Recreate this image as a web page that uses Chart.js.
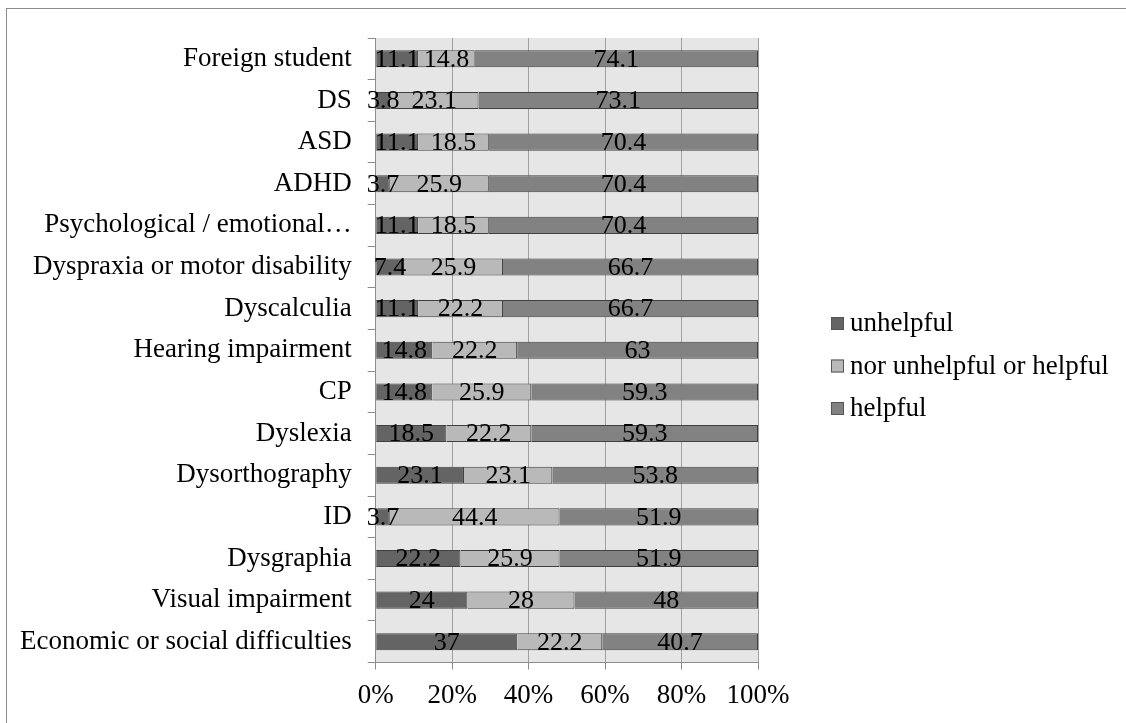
<!DOCTYPE html>
<html>
<head>
<meta charset="utf-8">
<script src="https://cdn.jsdelivr.net/npm/chart.js@4.4.0/dist/chart.umd.min.js"></script>
<style>
html, body { margin: 0; padding: 0; background: #fff; }
</style>
</head>
<body>
<canvas id="mycanvas" width="1126" height="723"></canvas>
<script>
var categories = [
	'Foreign student', 'DS', 'ASD', 'ADHD', 'Psychological / emotional\u2026',
	'Dyspraxia or motor disability', 'Dyscalculia', 'Hearing impairment', 'CP',
	'Dyslexia', 'Dysorthography', 'ID', 'Dysgraphia', 'Visual impairment',
	'Economic or social difficulties'
];
var unhelpful = [11.1, 3.8, 11.1, 3.7, 11.1, 7.4, 11.1, 14.8, 14.8, 18.5, 23.1, 3.7, 22.2, 24, 37];
var neutral   = [14.8, 23.1, 18.5, 25.9, 18.5, 25.9, 22.2, 22.2, 25.9, 22.2, 23.1, 44.4, 25.9, 28, 22.2];
var helpful   = [74.1, 73.1, 70.4, 70.4, 70.4, 66.7, 66.7, 63, 59.3, 59.3, 53.8, 51.9, 51.9, 48, 40.7];
var seriesNames = ['unhelpful', 'nor unhelpful or helpful', 'helpful'];
var xTickValues = [0, 20, 40, 60, 80, 100];

var serif = "'Liberation Serif', 'Times New Roman', serif";

// 100% stacking: scale each row to its own total
function share(arr, i) {
	var total = unhelpful[i] + neutral[i] + helpful[i];
	return arr[i] / total * 100;
}
function toShares(arr) {
	var out = [];
	for (var i in arr) out.push(share(arr, +i));
	return out;
}

var raw = [unhelpful, neutral, helpful];
var fills = ['#646464', '#b9b9b9', '#828282'];

var chartdata = {
	labels: categories,
	datasets: [
		{ label: seriesNames[0], data: toShares(unhelpful), backgroundColor: fills[0], borderColor: '#404040', borderWidth: 1 },
		{ label: seriesNames[1], data: toShares(neutral), backgroundColor: fills[1], borderColor: '#404040', borderWidth: 1 },
		{ label: seriesNames[2], data: toShares(helpful), backgroundColor: fills[2], borderColor: '#404040', borderWidth: 1 }
	]
};

var plotBackground = {
	id: 'plotBackground',
	beforeDraw: function(chart) {
		var c = chart.ctx, a = chart.chartArea;
		c.save();
		c.fillStyle = '#fff';
		c.fillRect(0, 0, chart.width, chart.height);
		c.strokeStyle = '#8c8c8c';
		c.lineWidth = 1;
		c.strokeRect(6.5, 8.5, 1200, 800);
		c.fillStyle = '#e6e6e6';
		c.fillRect(a.left, a.top, a.right - a.left, a.bottom - a.top);
		c.restore();
	}
};

var valueLabels = {
	id: 'valueLabels',
	afterDatasetsDraw: function(chart) {
		var c = chart.ctx;
		c.save();
		c.font = '26px ' + serif;
		c.fillStyle = '#000';
		c.textAlign = 'center';
		c.textBaseline = 'middle';
		chart.data.datasets.forEach(function(ds, d) {
			chart.getDatasetMeta(d).data.forEach(function(bar, i) {
				c.fillText(String(raw[d][i]), (bar.x + bar.base) / 2, bar.y + 1);
			});
		});
		c.restore();
	}
};

var sideLegend = {
	id: 'sideLegend',
	afterDraw: function(chart) {
		var c = chart.ctx;
		c.save();
		c.font = '27px ' + serif;
		c.textBaseline = 'middle';
		c.textAlign = 'left';
		chart.data.datasets.forEach(function(ds, d) {
			var y = 323 + d * 42.5;
			c.fillStyle = ds.backgroundColor;
			c.fillRect(831, y - 6, 13, 13);
			c.strokeStyle = '#555';
			c.lineWidth = 1;
			c.strokeRect(831.5, y - 5.5, 12, 12);
			c.fillStyle = '#000';
			c.fillText(ds.label, 850, y + 1);
		});
		c.restore();
	}
};

var ctx = document.getElementById('mycanvas');

var barGraph = new Chart(ctx, {
	type: 'bar',
	data: chartdata,
	plugins: [plotBackground, valueLabels, sideLegend],
	options: {
		responsive: false,
		devicePixelRatio: 1,
		animation: false,
		indexAxis: 'y',
		layout: { padding: { left: 4, top: 38, right: 368, bottom: 1 } },
		datasets: { bar: { barPercentage: 0.41, categoryPercentage: 1 } },
		plugins: { legend: { display: false }, tooltip: { enabled: false } },
		scales: {
			x: {
				stacked: true,
				min: 0,
				max: 100,
				afterBuildTicks: function(axis) {
					axis.ticks = xTickValues.map(function(v) { return { value: v }; });
				},
				ticks: {
					callback: function(v) { return v + '%'; },
					color: '#000',
					font: { family: serif, size: 27 },
					padding: 10,
					maxRotation: 0
				},
				grid: { color: '#a0a0a0', tickColor: '#8c8c8c', tickLength: 7 },
				border: { color: '#8c8c8c' }
			},
			y: {
				stacked: true,
				ticks: {
					color: '#000',
					font: { family: serif, size: 27 },
					padding: 16,
					autoSkip: false
				},
				grid: { drawOnChartArea: false, offset: true, tickColor: '#8c8c8c', tickLength: 8 },
				border: { color: '#8c8c8c' }
			}
		}
	}
});
</script>
</body>
</html>
